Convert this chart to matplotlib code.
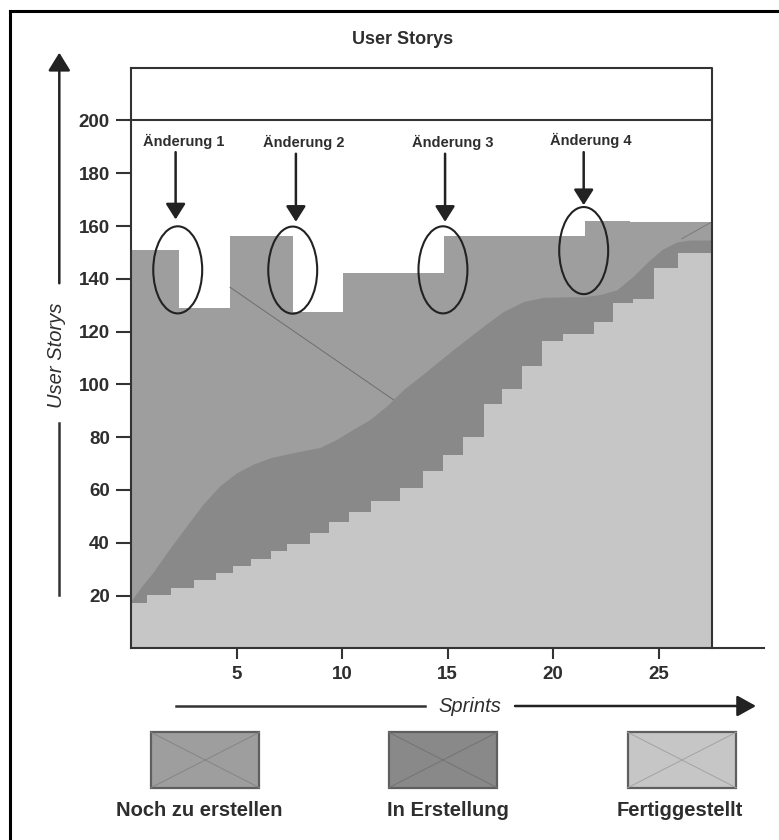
import matplotlib
matplotlib.use("Agg")
import matplotlib.pyplot as plt
from matplotlib.patches import Ellipse, Rectangle

plt.rcParams['font.family'] = ['Liberation Sans', 'DejaVu Sans']

# Daten
done_edges = [0, 0.74, 1.88, 2.98, 4.01, 4.84, 5.68, 6.62, 7.37, 8.48, 9.39, 10.34, 11.37,
              12.74, 13.82, 14.77, 15.72, 16.74, 17.59, 18.53, 19.46, 20.48, 21.95, 22.82,
              23.80, 24.80, 25.91, 27.55]
done_values = [17.0, 20.1, 23.0, 25.8, 28.6, 31.0, 34.0, 36.9, 39.4, 43.7, 47.7, 51.8, 56.0,
               60.6, 67.3, 73.2, 79.9, 92.7, 98.1, 106.9, 116.6, 119.2, 123.5, 130.8, 132.5,
               144.0, 149.7]

todo_edges = [0, 2.28, 4.69, 7.69, 10.06, 14.84, 21.51, 23.64, 27.55]
todo_values = [150.9, 128.9, 156.2, 127.4, 142.1, 156.2, 162.0, 161.7]

wip_x = [0, 0.5, 1.05, 1.8, 2.64, 3.4, 4.21, 5.0, 5.79, 6.6, 7.37, 8.1, 8.95, 9.7, 10.53,
         11.32, 12.11, 12.9, 13.7, 14.48, 15.27, 16.06, 16.85, 17.64, 18.59, 19.54, 20.8,
         21.43, 22.2, 23.01, 23.8, 24.59, 25.2, 25.86, 26.5, 27.55]
wip_top = [18.0, 23.5, 28.9, 37.5, 46.5, 54.5, 61.6, 66.5, 69.8, 72.2, 73.6, 74.8, 76.1, 79.0,
           83.0, 86.7, 91.8, 98.0, 103.0, 108.1, 113.2, 118.1, 123.0, 127.6, 131.4, 133.0,
           133.2, 133.2, 134.0, 135.8, 141.0, 147.2, 151.3, 154.0, 154.7, 154.7]

ideal_x = [4.69, 12.5]
ideal_y = [136.8, 93.8]
edge_x = [26.1, 27.55]
edge_y = [155.2, 161.7]

change_labels = ['Änderung 1', 'Änderung 2', 'Änderung 3', 'Änderung 4']
change_cx = [2.21, 7.66, 14.78, 21.45]
change_cy = [143.4, 143.3, 143.4, 150.7]
arrow_x = [2.11, 7.81, 14.88, 21.45]
arrow_top = [188.0, 187.4, 187.4, 188.0]
arrow_tip = [162.5, 161.6, 161.6, 167.9]
label_x = [2.49, 8.2, 15.26, 21.81]
label_y = [192.2, 191.8, 191.8, 192.4]

x_ticks = [5, 10, 15, 20, 25]
y_ticks = [20, 40, 60, 80, 100, 120, 140, 160, 180, 200]

legend_names = ['Noch zu erstellen', 'In Erstellung', 'Fertiggestellt']

C_TODO = '#9d9e9d'
C_WIP = '#898989'
C_DONE = '#c5c6c5'
TXT = '#2e2e2e'
LINE = '#333333'

fig = plt.figure(figsize=(7.79, 8.40), dpi=100)
ax = fig.add_axes([131.1 / 779, (840 - 648.3) / 840, 633 / 779, 580.6 / 840])
ax.set_xlim(0, 30)
ax.set_ylim(0, 220)

ax.fill_between(todo_edges, 0, todo_values + [todo_values[-1]], step='post',
                color=C_TODO, lw=0, zorder=1)
ax.plot(ideal_x, ideal_y, color='#6e6e6e', lw=0.7, zorder=2)
ax.fill_between(wip_x, 0, wip_top, color=C_WIP, lw=0, zorder=3)
ax.plot(edge_x, edge_y, color='#7a7a7a', lw=0.7, zorder=3)
ax.fill_between(done_edges, 0, done_values + [done_values[-1]], step='post',
                color=C_DONE, lw=0, zorder=4)

# Rahmen oben/rechts und Linie bei 200
right = done_edges[-1]
ax.plot([0, right, right], [220, 220, 0], color=LINE, lw=1.5, zorder=5, clip_on=False)
ax.plot([0, right], [200, 200], color=LINE, lw=1.5, zorder=5, clip_on=False)

for s in ['top', 'right']:
    ax.spines[s].set_visible(False)
for s in ['left', 'bottom']:
    ax.spines[s].set_color(LINE)
    ax.spines[s].set_linewidth(1.5)
    ax.spines[s].set_zorder(6)

ax.set_xticks(x_ticks)
ax.set_xticklabels([str(t) for t in x_ticks], fontweight='bold')
ax.set_yticks(y_ticks)
ax.set_yticklabels([str(t) for t in y_ticks], fontweight='bold')
ax.tick_params(axis='y', length=10.8, width=1.5, pad=4.5, labelsize=13.5,
               color=LINE, labelcolor=TXT)
ax.tick_params(axis='x', length=8, width=1.5, pad=5, labelsize=13.5,
               color=LINE, labelcolor=TXT)
ax.patch.set_alpha(0)

for i in range(4):
    ax.add_patch(Ellipse((change_cx[i], change_cy[i]), 2.32, 33.0, fill=False,
                         ec='#222222', lw=1.5, zorder=7))
    ax.annotate('', xy=(arrow_x[i], arrow_tip[i]), xytext=(arrow_x[i], arrow_top[i]),
                arrowprops=dict(arrowstyle='-|>,head_length=0.95,head_width=0.6',
                                color='#222222', lw=1.8, mutation_scale=10,
                                shrinkA=0, shrinkB=0), zorder=7)
    ax.text(label_x[i], label_y[i], change_labels[i], ha='center', va='center',
            fontsize=10.5, fontweight='bold', color=TXT, zorder=7)

# Dekoration in Pixelkoordinaten
ov = fig.add_axes([0, 0, 1, 1])
ov.set_xlim(0, 779)
ov.set_ylim(840, 0)
ov.axis('off')

ov.plot([10, 790], [11, 11], color='black', lw=2.2, clip_on=False)
ov.plot([10, 10], [11, 850], color='black', lw=2.2, clip_on=False)

ov.text(402.5, 39, 'User Storys', ha='center', va='center', fontsize=13,
        fontweight='bold', color=TXT)

# y-Pfeil
ov.plot([59.3, 59.3], [595, 423.3], color=LINE, lw=1.8)
ov.annotate('', xy=(59.3, 52.7), xytext=(59.3, 283.3),
            arrowprops=dict(arrowstyle='-|>,head_length=1.1,head_width=0.68',
                            color='#222222', lw=1.8, mutation_scale=10,
                            shrinkA=0, shrinkB=0))
ov.text(57, 355, 'User Storys', rotation=90, style='italic', fontsize=14.5,
        ha='center', va='center', color=TXT)

# x-Pfeil
ov.plot([176, 425], [706, 706], color=LINE, lw=1.8)
ov.annotate('', xy=(756, 706), xytext=(515, 706),
            arrowprops=dict(arrowstyle='-|>,head_length=1.15,head_width=0.64',
                            color='#222222', lw=1.8, mutation_scale=10,
                            shrinkA=0, shrinkB=0))
ov.text(470, 706, 'Sprints', style='italic', fontsize=14.5, ha='center', va='center',
        color=TXT)

# Legende
box_x = [151, 388.7, 627.7]
text_x = [198.8, 448.3, 679.7]
box_colors = [C_TODO, C_WIP, C_DONE]
cross_colors = ['#858585', '#737373', '#a3a3a3']
for i in range(3):
    x0, y0, w, h = box_x[i], 732.3, 108.5, 55.4
    ov.plot([x0, x0 + w], [y0, y0 + h], color=cross_colors[i], lw=0.7)
    ov.plot([x0, x0 + w], [y0 + h, y0], color=cross_colors[i], lw=0.7)
    ov.add_patch(Rectangle((x0, y0), w, h, fc=box_colors[i], ec='#5f5f5f', lw=1.6,
                           zorder=0.5))
    ov.text(text_x[i], 810, legend_names[i], ha='center', va='center', fontsize=14.5,
            fontweight='bold', color=TXT)

fig.savefig('out.png', dpi=100)
